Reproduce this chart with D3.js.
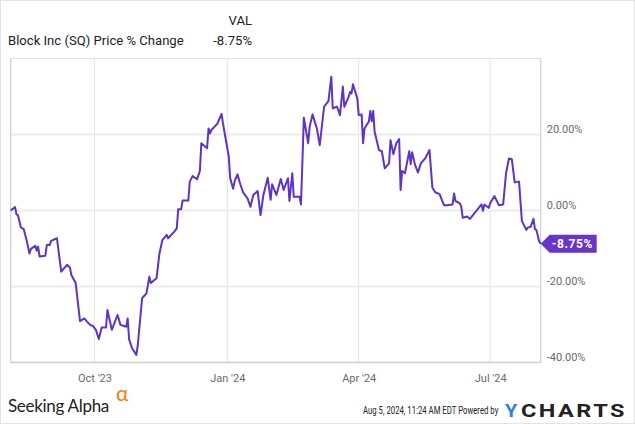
<!DOCTYPE html>
<html><head><meta charset="utf-8">
<script src="https://cdn.jsdelivr.net/npm/d3@7"></script>
<style>
html,body{margin:0;padding:0;background:#fff;}
svg{display:block;}
text{font-family:Roboto,"Noto Sans",sans-serif;}
</style></head>
<body>
<svg id="c" width="635" height="424"></svg>
<script>
const title = "Block Inc (SQ) Price % Change";
const valHeader = "VAL";
const lastValue = -8.75;
const dates = ["2023-08-04","2023-08-07","2023-08-08","2023-08-09","2023-08-11","2023-08-13","2023-08-15","2023-08-17","2023-08-18","2023-08-21","2023-08-22","2023-08-23","2023-08-24","2023-08-28","2023-08-29","2023-08-31","2023-09-01","2023-09-05","2023-09-08","2023-09-12","2023-09-14","2023-09-15","2023-09-18","2023-09-21","2023-09-24","2023-09-26","2023-09-28","2023-09-30","2023-10-02","2023-10-04","2023-10-06","2023-10-09","2023-10-10","2023-10-13","2023-10-17","2023-10-19","2023-10-23","2023-10-24","2023-10-25","2023-10-27","2023-10-30","2023-10-31","2023-11-03","2023-11-06","2023-11-08","2023-11-09","2023-11-13","2023-11-15","2023-11-17","2023-11-20","2023-11-21","2023-11-25","2023-11-27","2023-11-28","2023-11-30","2023-12-01","2023-12-05","2023-12-06","2023-12-08","2023-12-11","2023-12-13","2023-12-14","2023-12-18","2023-12-19","2023-12-20","2023-12-21","2023-12-25","2023-12-28","2023-12-29","2024-01-02","2024-01-03","2024-01-05","2024-01-06","2024-01-08","2024-01-10","2024-01-12","2024-01-15","2024-01-17","2024-01-19","2024-01-22","2024-01-24","2024-01-26","2024-01-29","2024-01-31","2024-02-01","2024-02-04","2024-02-07","2024-02-09","2024-02-12","2024-02-13","2024-02-15","2024-02-16","2024-02-20","2024-02-21","2024-02-23","2024-02-26","2024-02-27","2024-02-29","2024-03-03","2024-03-05","2024-03-08","2024-03-11","2024-03-13","2024-03-14","2024-03-17","2024-03-19","2024-03-21","2024-03-22","2024-03-25","2024-03-26","2024-03-27","2024-03-28","2024-03-31","2024-04-01","2024-04-03","2024-04-04","2024-04-05","2024-04-08","2024-04-09","2024-04-10","2024-04-11","2024-04-12","2024-04-15","2024-04-17","2024-04-19","2024-04-22","2024-04-23","2024-04-25","2024-04-27","2024-04-29","2024-04-30","2024-05-01","2024-05-03","2024-05-06","2024-05-07","2024-05-08","2024-05-10","2024-05-12","2024-05-14","2024-05-17","2024-05-20","2024-05-22","2024-05-24","2024-05-27","2024-05-30","2024-06-01","2024-06-05","2024-06-06","2024-06-07","2024-06-10","2024-06-11","2024-06-12","2024-06-15","2024-06-17","2024-06-21","2024-06-25","2024-06-26","2024-06-27","2024-06-30","2024-07-01","2024-07-04","2024-07-07","2024-07-10","2024-07-12","2024-07-14","2024-07-16","2024-07-18","2024-07-21","2024-07-23","2024-07-26","2024-07-27","2024-07-29","2024-07-31","2024-08-01","2024-08-02","2024-08-04","2024-08-05"];
const values = [0,0.9,-1,-1.2,-4.4,-4.9,-7.8,-11.3,-10.1,-9.3,-10.6,-9.5,-12.1,-11.9,-9.1,-9.1,-8,-7.3,-16.1,-14.3,-15,-17,-19.1,-29.1,-28.4,-29.3,-30.1,-30.4,-31.4,-33.8,-30.8,-30.8,-26.2,-31.4,-27.5,-30.1,-30.6,-28.4,-33.9,-36.2,-38,-35.4,-23.1,-21.8,-17.4,-19.1,-17.8,-11.3,-7.8,-6.4,-7.3,-5.7,-4.7,0.3,0.3,2.6,2.6,7.6,9.1,8.2,10.4,17.7,16.4,21.6,20.3,21.2,22.8,25.4,22.9,14.2,8.5,5.7,7.6,9.5,6.9,4.7,3.2,1,4.1,5.1,-1.2,4.1,8.6,2.8,6.9,4.1,8.3,5.4,8.5,2.5,9.8,3.6,3.6,1.6,24.4,17.7,22,25.3,21.6,17.2,27.3,28.8,35.2,26.9,27.3,25.1,32.6,27.3,29.9,31.2,30.8,33.2,29.5,25.1,25.3,17.7,21.6,23.4,26.2,23.5,26.2,20.7,15.9,15.6,11.1,12.4,18.5,14.8,17.7,18.8,5.4,10.4,9.8,15.6,12.2,15.3,12,10,12.4,13.7,15.9,6,4.8,4.3,1.4,1.4,1.6,4.5,2.5,1.9,1,-1.9,-1.6,-2.2,-0.3,1.6,-0.1,1.6,0.7,1.9,3.8,1.4,1.6,9.8,13.7,13.5,7.4,7.6,-2.8,-5.1,-4.5,-4.3,-2.2,-4.9,-5.1,-8.2,-8.75];
const yTicks = [-40,-20,0,20];
const xTicks = ["2023-10-01","2024-01-01","2024-04-01","2024-07-01"];
const xDomain = ["2023-08-04","2024-08-05"];

const parse = d3.timeParse("%Y-%m-%d");
const data = dates.map((d,i)=>({date:parse(d), value:values[i]}));

const svg = d3.select("#c");
const L=10.7, R=540.7, T=58.5, B=362.5;
const x = d3.scaleTime().domain(xDomain.map(parse)).range([L,R]);
const y = d3.scaleLinear().domain([-40,40]).range([B,T]);

// outer frame
svg.append("rect").attr("x",0.5).attr("y",0.5).attr("width",634).attr("height",423)
  .attr("fill","none").attr("stroke","#e4e4e4");

// plot border
svg.append("rect").attr("x",L).attr("y",T).attr("width",R-L).attr("height",B-T)
  .attr("fill","none").attr("stroke","#e2e2e2").attr("stroke-width",1);

// vertical grid
svg.append("g").selectAll("line").data(xTicks.map(parse)).join("line")
  .attr("x1",d=>x(d)).attr("x2",d=>x(d)).attr("y1",T).attr("y2",B)
  .attr("stroke","#e3e3e3").attr("stroke-width",1);
// horizontal grid
svg.append("g").selectAll("line").data(yTicks.filter(v=>v>-40)).join("line")
  .attr("x1",L).attr("x2",R).attr("y1",d=>y(d)).attr("y2",d=>y(d))
  .attr("stroke","#ececec").attr("stroke-width",2);
// left/bottom/right axis lines
svg.append("line").attr("x1",L).attr("x2",L).attr("y1",T).attr("y2",B).attr("stroke","#cfcfcf");
svg.append("line").attr("x1",L).attr("x2",R).attr("y1",B).attr("y2",B).attr("stroke","#cfcfcf").attr("stroke-width",1.5);
svg.append("line").attr("x1",R).attr("x2",R).attr("y1",T).attr("y2",B).attr("stroke","#cfcfcf");

// y axis labels
const yAxis = d3.axisRight(y).tickValues(yTicks).tickSize(0).tickPadding(6)
  .tickFormat(d=>d.toFixed(2)+"%");
const gy = svg.append("g").attr("transform",`translate(${R},0)`).call(yAxis);
gy.select(".domain").remove();
gy.selectAll("text").attr("font-size",11).attr("fill","#6b6b6b").attr("dy","-0.15em")
  .style("font-family","Roboto");

// x axis labels
const xAxis = d3.axisBottom(x).tickValues(xTicks.map(parse)).tickSize(0).tickPadding(12)
  .tickFormat(d3.timeFormat("%b '%y"));
const gx = svg.append("g").attr("transform",`translate(0,${B})`).call(xAxis);
gx.select(".domain").remove();
gx.selectAll("text").attr("font-size",11).attr("fill","#6b6b6b").style("font-family","Roboto");

// line
const line = d3.line().x(d=>x(d.date)).y(d=>y(d.value));
svg.append("path").datum(data).attr("d",line).attr("fill","none")
  .attr("stroke","#5f32c8").attr("stroke-width",2).attr("stroke-linejoin","round");

// end label
const last = data[data.length-1];
const lx = x(last.date), ly = y(last.value);
svg.append("path")
  .attr("d",`M${lx},${ly} L${lx+9},${ly-9} L${lx+56},${ly-9} L${lx+56},${ly+9} L${lx+9},${ly+9} Z`)
  .attr("fill","#6536c9");
svg.append("text").attr("x",lx+11).attr("y",ly+4.5).text(lastValue.toFixed(2)+"%")
  .attr("font-size",12).attr("font-weight","bold").attr("fill","#fff").attr("letter-spacing",0.6);

// header
svg.append("text").attr("x",8).attr("y",45).text(title).attr("font-size",13.1).attr("fill","#222");
svg.append("text").attr("x",252).attr("y",25).attr("text-anchor","end").text(valHeader).attr("font-size",13.1).attr("fill","#222");
svg.append("text").attr("x",252).attr("y",45).attr("text-anchor","end").text(lastValue.toFixed(2)+"%").attr("font-size",13.1).attr("fill","#222");

// footer
svg.append("text").attr("x",8).attr("y",412).text("Seeking Alpha").attr("font-size",17)
  .style("font-family","Lato").attr("fill","#222").attr("letter-spacing",-0.3);
svg.append("text").attr("x",116).attr("y",401).text("α").attr("font-size",21)
  .style("font-family","Lato").attr("fill","#ff7a00");

// horizontally scaled footer texts (fit to a target width via transform)
function fitText(txt, x0, yb, w, opts){
  const t = svg.append("text").attr("x",0).attr("y",0).text(txt)
    .attr("font-size",opts.size).attr("fill",opts.fill);
  if(opts.bold) t.attr("font-weight","bold");
  if(opts.ls) t.attr("letter-spacing",opts.ls);
  const bb = t.node().getBBox();
  const s = w / bb.width;
  t.attr("transform",`translate(${x0 - bb.x*s},${yb}) scale(${s},1)`);
  return t;
}
fitText("Aug 5, 2024, 11:24 AM EDT Powered by", 363, 414, 136, {size:11, fill:"#222"});
fitText("Y", 505, 417, 12.5, {size:19, fill:"#2f7fe6", bold:true});
fitText("CHARTS", 521, 417, 106, {size:19, fill:"#222", bold:true, ls:2});
</script>
</body></html>
